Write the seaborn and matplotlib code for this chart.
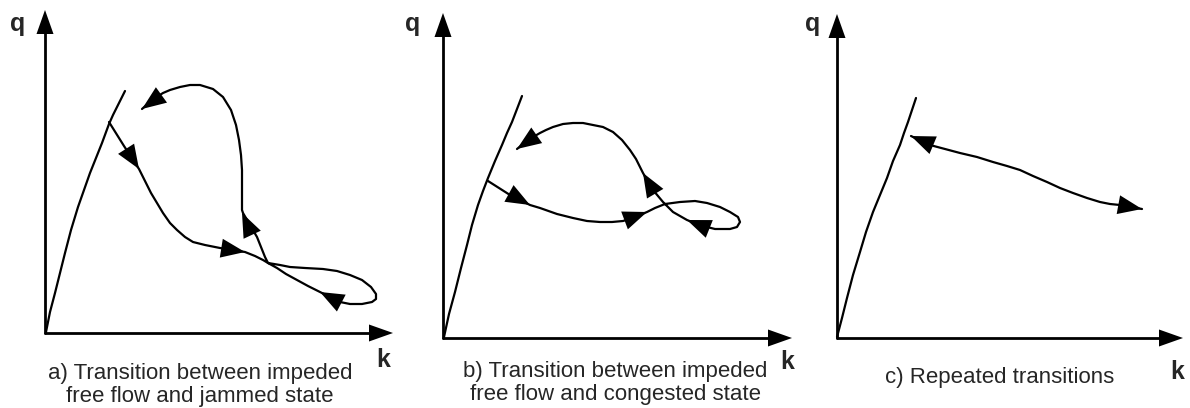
import numpy as np
import pandas as pd
import matplotlib
matplotlib.use("Agg")
import matplotlib.pyplot as plt
import seaborn as sns

# all coordinates (pixel units, y downwards)

# panel a) impeded free flow <-> jammed
a_origin, a_qtip, a_ktip = (45, 333), (45, 10), (393, 333)
a_free_k = [46, 50, 55, 60, 65, 71, 78, 84, 90, 96, 102, 109, 113, 117, 121, 125]
a_free_q = [332, 312, 293, 273, 253, 230, 207, 190, 173, 158, 143, 124, 115, 107, 99, 91]
a_path_k = [109, 124, 139, 145, 151, 157, 163, 170, 177, 185, 193, 205, 220, 233, 245, 255, 263,
            268, 280, 290, 305, 323, 337, 350, 362, 371, 376, 376, 372, 362, 350, 340, 320, 308,
            297, 286, 277, 268, 265, 261, 257, 250, 243, 242, 242, 242, 241, 239, 236, 231, 223,
            213, 200, 190, 180, 170, 163, 152, 142]
a_path_q = [122, 146, 169, 181, 193, 203, 213, 223, 230, 237, 242, 245, 248, 250, 252, 256, 260,
            263, 265, 267, 268, 269, 271, 275, 280, 287, 294, 299, 302, 304, 304, 302, 292, 286,
            280, 274, 268, 263, 257, 247, 237, 225, 213, 210, 190, 170, 155, 140, 125, 110, 97,
            89, 85, 85, 87, 90, 93, 100, 109]
a_arrow_tip = [(139, 169), (245, 252), (320, 292), (242, 213), (142, 109)]
a_arrow_from = [(109, 122), (220, 248), (345, 305), (257, 245), (160, 96)]

# panel b) impeded free flow <-> congested
b_origin, b_qtip, b_ktip = (443, 338), (443, 13), (792, 338)
b_free_k = [444, 449, 455, 461, 467, 472, 478, 483, 488, 495, 502, 507, 512, 517, 522]
b_free_q = [337, 314, 292, 268, 245, 225, 205, 191, 178, 161, 145, 133, 122, 109, 96]
b_path_k = [488, 510, 530, 540, 557, 573, 587, 600, 612, 623, 635, 647, 655, 665, 680, 695, 707,
            720, 730, 738, 740, 737, 730, 723, 715, 707, 697, 687, 680, 673, 663, 653, 648, 643,
            640, 636, 630, 622, 613, 603, 593, 583, 573, 563, 553, 546, 540, 528, 517]
b_path_q = [181, 195, 205, 208, 214, 218, 221, 222, 222, 221, 217, 212, 208, 204, 202, 201, 203,
            207, 212, 217, 222, 227, 229, 229, 229, 227, 224, 220, 216, 212, 202, 190, 182, 173,
            167, 159, 150, 140, 132, 127, 125, 123, 123, 124, 127, 130, 133, 140, 149]
b_arrow_tip = [(530, 205), (647, 212), (687, 220), (643, 173), (517, 149)]
b_arrow_from = [(510, 194), (623, 221), (707, 228), (653, 190), (540, 133)]

# panel c) repeated transitions
c_origin, c_qtip, c_ktip = (837, 338), (837, 14), (1183, 338)
c_free_k = [837, 842, 847, 853, 860, 866, 873, 880, 887, 893, 900, 904, 908, 912, 916]
c_free_q = [337, 318, 298, 275, 252, 232, 212, 195, 178, 161, 145, 133, 122, 110, 98]
c_path_k = [911, 930, 945, 960, 977, 993, 1007, 1020, 1033, 1047, 1060, 1073, 1087, 1100, 1110,
            1120, 1142]
c_path_q = [136, 145, 149, 153, 157, 162, 166, 170, 176, 182, 188, 193, 198, 202, 204, 205, 209]
c_arrow_tip = [(911, 136), (1142, 209)]
c_arrow_from = [(935, 146), (1120, 205)]

captions = [
    ("a) Transition between impeded\nfree flow and jammed state", (200, 385)),
    ("b) Transition between impeded\nfree flow and congested state", (615, 383)),
    ("c) Repeated transitions", (1000, 378)),
]
q_labels = [(18, 24), (413, 24), (813, 24)]
k_labels = [(383, 360), (787, 362), (1177, 372)]

sns.set_theme(style="white")
plt.rcParams["font.family"] = ["Liberation Sans", "DejaVu Sans"]

fig = plt.figure(figsize=(11.9, 4.08), dpi=100)
ax = fig.add_axes([0, 0, 1, 1])
ax.set_xlim(0, 1190)
ax.set_ylim(408, 0)
ax.axis("off")


def head(ax, tip, frm, length, half):
    tip = np.array(tip, float); frm = np.array(frm, float)
    d = (tip - frm) / np.linalg.norm(tip - frm)
    n = np.array([-d[1], d[0]])
    base = tip - d * length
    tri = np.array([tip, base + n * half, base - n * half])
    ax.fill(tri[:, 0], tri[:, 1], color="black", lw=0, zorder=5)


def curve(ax, ks, qs, lw=1.6):
    df = pd.DataFrame({"k": ks, "q": qs})
    sns.lineplot(data=df, x="k", y="q", sort=False, estimator=None, color="black",
                 lw=lw, ax=ax, solid_joinstyle="round", solid_capstyle="round")


panels = [
    (a_origin, a_qtip, a_ktip, a_free_k, a_free_q, a_path_k, a_path_q, a_arrow_tip, a_arrow_from),
    (b_origin, b_qtip, b_ktip, b_free_k, b_free_q, b_path_k, b_path_q, b_arrow_tip, b_arrow_from),
    (c_origin, c_qtip, c_ktip, c_free_k, c_free_q, c_path_k, c_path_q, c_arrow_tip, c_arrow_from),
]
for origin, qtip, ktip, fk, fq, pk, pq, tips, froms in panels:
    # axes
    curve(ax, [origin[0], qtip[0]], [origin[1], qtip[1] + 20], lw=2.0)
    curve(ax, [origin[0], ktip[0] - 20], [origin[1], ktip[1]], lw=2.0)
    head(ax, qtip, origin, 24, 8.5)
    head(ax, ktip, origin, 24, 8.5)
    # free-flow branch and transition path
    curve(ax, fk, fq)
    curve(ax, pk, pq)
    for t, f in zip(tips, froms):
        head(ax, t, f, 24, 9.5)

for (x, y) in q_labels:
    ax.text(x, y, "q", fontsize=18, fontweight="bold", ha="center", va="center")
for (x, y) in k_labels:
    ax.text(x, y, "k", fontsize=18, fontweight="bold", ha="center", va="center")
for txt, (x, y) in captions:
    ax.text(x, y, txt, fontsize=16, ha="center", va="center", linespacing=1.1)

fig.savefig("out.png", dpi=100, facecolor="white")
